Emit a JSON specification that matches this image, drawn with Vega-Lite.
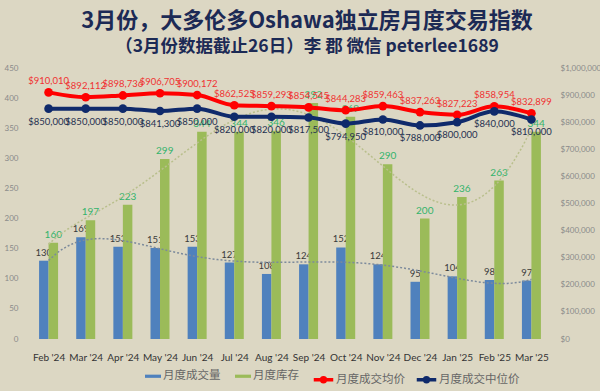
{
  "$schema": "https://vega.github.io/schema/vega-lite/v6.json",
  "width": 530,
  "height": 271,
  "autosize": {"type": "none"},
  "padding": {"left": 25, "top": 68, "right": 45, "bottom": 52},
  "background": "#dcd7c3",
  "title": {
    "text": "3月份，大多伦多Oshawa独立房月度交易指数",
    "subtitle": "（3月份数据截止26日）李 郡 微信 peterlee1689",
    "anchor": "middle",
    "frame": "group",
    "dx": 17,
    "offset": 8,
    "font": "Noto Sans CJK SC",
    "fontSize": 22,
    "fontWeight": "bold",
    "color": "#1c2a55",
    "subtitleFont": "Noto Sans CJK SC",
    "subtitleFontSize": 17.5,
    "subtitleFontWeight": "bold",
    "subtitleColor": "#1c2a55",
    "subtitlePadding": 5
  },
  "data": {
    "values": [
      {"month": "Feb '24", "i": 0, "sales": 130, "inventory": 160, "avg": 910010, "median": 850000},
      {"month": "Mar '24", "i": 1, "sales": 169, "inventory": 197, "avg": 892112, "median": 850000},
      {"month": "Apr '24", "i": 2, "sales": 153, "inventory": 223, "avg": 898736, "median": 850000},
      {"month": "May '24", "i": 3, "sales": 151, "inventory": 299, "avg": 906705, "median": 841300},
      {"month": "Jun '24", "i": 4, "sales": 153, "inventory": 344, "avg": 900172, "median": 850000},
      {"month": "Jul '24", "i": 5, "sales": 127, "inventory": 344, "avg": 862525, "median": 820000},
      {"month": "Aug '24", "i": 6, "sales": 108, "inventory": 346, "avg": 859293, "median": 820000},
      {"month": "Sep '24", "i": 7, "sales": 124, "inventory": 392, "avg": 854545, "median": 817500},
      {"month": "Oct '24", "i": 8, "sales": 152, "inventory": 369, "avg": 844283, "median": 794950},
      {"month": "Nov '24", "i": 9, "sales": 124, "inventory": 290, "avg": 859463, "median": 810000},
      {"month": "Dec '24", "i": 10, "sales": 95, "inventory": 200, "avg": 837263, "median": 788000},
      {"month": "Jan '25", "i": 11, "sales": 104, "inventory": 236, "avg": 827223, "median": 800000},
      {"month": "Feb '25", "i": 12, "sales": 98, "inventory": 263, "avg": 858954, "median": 840000},
      {"month": "Mar '25", "i": 13, "sales": 97, "inventory": 344, "avg": 832899, "median": 810000}
    ]
  },
  "encoding": {
    "x": {
      "field": "i",
      "type": "quantitative",
      "scale": {"domain": [-0.5, 13.5], "nice": false, "zero": false},
      "axis": {
        "values": [0, 1, 2, 3, 4, 5, 6, 7, 8, 9, 10, 11, 12, 13],
        "labelExpr": "[\"Feb '24\",\"Mar '24\",\"Apr '24\",\"May '24\",\"Jun '24\",\"Jul '24\",\"Aug '24\",\"Sep '24\",\"Oct '24\",\"Nov '24\",\"Dec '24\",\"Jan '25\",\"Feb '25\",\"Mar '25\"][datum.value]",
        "title": null,
        "grid": false,
        "ticks": false,
        "domain": false,
        "labelPadding": 13,
        "labelFont": "Lato",
        "labelFontSize": 10,
        "labelColor": "#333333",
        "labelFlush": false,
        "labelOverlap": false
      }
    }
  },
  "layer": [
    {
      "layer": [
        {
          "mark": {"type": "bar", "width": 9.5, "xOffset": -4.75},
          "encoding": {
            "y": {
              "field": "sales",
              "type": "quantitative",
              "scale": {"domain": [0, 450], "nice": false},
              "axis": {"orient": "left", "values": [0, 50, 100, 150, 200, 250, 300, 350, 400, 450], "title": null, "labelPadding": 7}
            },
            "fill": {
              "datum": "月度成交量",
              "scale": {"domain": ["月度成交量", "月度库存"], "range": ["#4f81bd", "#9bbb59"]},
              "legend": {
                "orient": "none",
                "legendX": 120,
                "legendY": 300,
                "direction": "horizontal",
                "title": null,
                "symbolType": "M-1,-0.2H1V0.2H-1Z",
                "symbolSize": 256,
                "symbolStrokeWidth": 0,
                "labelFont": "Noto Sans CJK SC",
                "labelFontSize": 11.5,
                "labelColor": "#666666",
                "labelOffset": 2,
                "columnPadding": 14
              }
            }
          }
        },
        {
          "mark": {"type": "text", "dy": -8, "xOffset": -4.75, "font": "Lato", "fontSize": 9.5, "color": "#3a3a3a"},
          "encoding": {
            "y": {"field": "sales", "type": "quantitative", "axis": {"orient": "left", "values": [0, 50, 100, 150, 200, 250, 300, 350, 400, 450], "title": null, "labelPadding": 7}},
            "text": {"field": "sales", "type": "quantitative"}
          }
        },
        {
          "mark": {"type": "bar", "width": 9.5, "xOffset": 4.75},
          "encoding": {
            "y": {"field": "inventory", "type": "quantitative", "axis": {"orient": "left", "values": [0, 50, 100, 150, 200, 250, 300, 350, 400, 450], "title": null, "labelPadding": 7}},
            "fill": {"datum": "月度库存"}
          }
        },
        {
          "mark": {"type": "text", "dy": -8, "xOffset": 4.75, "font": "Lato", "fontSize": 10, "color": "#33b36b"},
          "encoding": {
            "y": {"field": "inventory", "type": "quantitative", "axis": {"orient": "left", "values": [0, 50, 100, 150, 200, 250, 300, 350, 400, 450], "title": null, "labelPadding": 7}},
            "text": {"field": "inventory", "type": "quantitative"}
          }
        },
        {
          "transform": [{"regression": "sales", "on": "i", "method": "poly", "order": 6, "extent": [0, 13]}],
          "mark": {"type": "line", "strokeDash": [2, 2], "strokeWidth": 1.5, "color": "#7c8a9c"},
          "encoding": {
            "y": {"field": "sales", "type": "quantitative", "axis": {"orient": "left", "values": [0, 50, 100, 150, 200, 250, 300, 350, 400, 450], "title": null, "labelPadding": 7}}
          }
        },
        {
          "transform": [{"regression": "inventory", "on": "i", "method": "poly", "order": 6, "extent": [0, 13]}],
          "mark": {"type": "line", "strokeDash": [2, 2], "strokeWidth": 1.5, "color": "#b9bf8c"},
          "encoding": {
            "y": {"field": "inventory", "type": "quantitative", "axis": {"orient": "left", "values": [0, 50, 100, 150, 200, 250, 300, 350, 400, 450], "title": null, "labelPadding": 7}}
          }
        }
      ]
    },
    {
      "layer": [
        {
          "mark": {"type": "line", "strokeWidth": 4, "interpolate": "monotone"},
          "encoding": {
            "y": {
              "field": "avg",
              "type": "quantitative",
              "scale": {"domain": [0, 1000000], "nice": false},
              "axis": {"orient": "right", "values": [0, 100000, 200000, 300000, 400000, 500000, 600000, 700000, 800000, 900000, 1000000], "format": "$,.0f", "title": null, "labelPadding": 5}
            },
            "stroke": {
              "datum": "月度成交均价",
              "scale": {"domain": ["月度成交均价", "月度成交中位价"], "range": ["#ff0000", "#0f2a6b"]},
              "legend": {
                "orient": "none",
                "legendX": 287,
                "legendY": 300,
                "direction": "horizontal",
                "title": null,
                "symbolType": "M-1,0H1M-0.2,0A0.2,0.2 0 1,0 0.2,0A0.2,0.2 0 1,0 -0.2,0",
                "symbolSize": 380,
                "symbolStrokeWidth": 3.5,
                "labelFont": "Noto Sans CJK SC",
                "labelFontSize": 11.5,
                "labelColor": "#666666",
                "labelOffset": 1,
                "columnPadding": 4
              }
            }
          }
        },
        {
          "mark": {"type": "point", "filled": true, "size": 75, "opacity": 1, "color": "#ff0000"},
          "encoding": {
            "y": {"field": "avg", "type": "quantitative", "axis": {"orient": "right", "values": [0, 100000, 200000, 300000, 400000, 500000, 600000, 700000, 800000, 900000, 1000000], "format": "$,.0f", "title": null, "labelPadding": 5}}
          }
        },
        {
          "mark": {"type": "text", "dy": -11, "font": "Lato", "fontSize": 9.5, "color": "#f03232"},
          "encoding": {
            "y": {"field": "avg", "type": "quantitative", "axis": {"orient": "right", "values": [0, 100000, 200000, 300000, 400000, 500000, 600000, 700000, 800000, 900000, 1000000], "format": "$,.0f", "title": null, "labelPadding": 5}},
            "text": {"field": "avg", "type": "quantitative", "format": "$,.0f"}
          }
        },
        {
          "mark": {"type": "line", "strokeWidth": 4, "interpolate": "monotone"},
          "encoding": {
            "y": {"field": "median", "type": "quantitative", "axis": {"orient": "right", "values": [0, 100000, 200000, 300000, 400000, 500000, 600000, 700000, 800000, 900000, 1000000], "format": "$,.0f", "title": null, "labelPadding": 5}},
            "stroke": {"datum": "月度成交中位价"}
          }
        },
        {
          "mark": {"type": "point", "filled": true, "size": 75, "opacity": 1, "color": "#0f2a6b"},
          "encoding": {
            "y": {"field": "median", "type": "quantitative", "axis": {"orient": "right", "values": [0, 100000, 200000, 300000, 400000, 500000, 600000, 700000, 800000, 900000, 1000000], "format": "$,.0f", "title": null, "labelPadding": 5}}
          }
        },
        {
          "mark": {"type": "text", "dy": 13, "font": "Lato", "fontSize": 9.5, "color": "#1f3050"},
          "encoding": {
            "y": {"field": "median", "type": "quantitative", "axis": {"orient": "right", "values": [0, 100000, 200000, 300000, 400000, 500000, 600000, 700000, 800000, 900000, 1000000], "format": "$,.0f", "title": null, "labelPadding": 5}},
            "text": {"field": "median", "type": "quantitative", "format": "$,.0f"}
          }
        }
      ]
    }
  ],
  "resolve": {"scale": {"y": "independent"}},
  "config": {
    "view": {"stroke": null},
    "font": "Lato",
    "axisY": {
      "grid": false,
      "ticks": false,
      "domain": false,
      "labelFont": "Lato",
      "labelFontSize": 8,
      "labelColor": "#8a8a8a"
    }
  }
}
